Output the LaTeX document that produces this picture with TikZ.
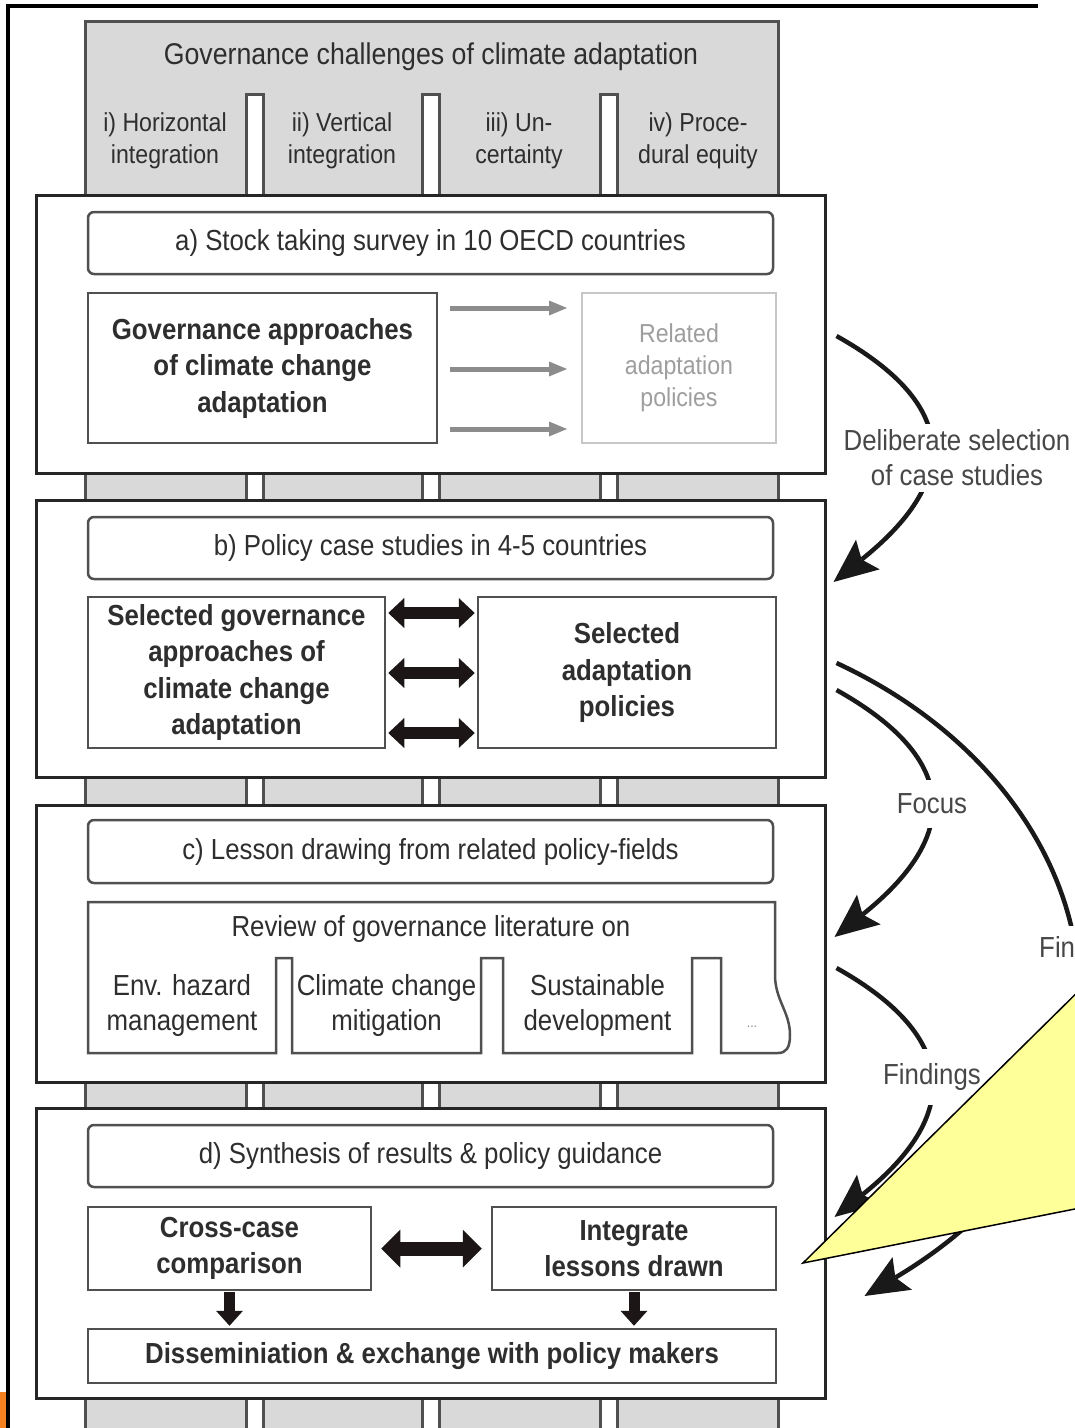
\documentclass[tikz,border=0pt]{standalone}
\usepackage{fontspec}
\setmainfont[FakeStretch=0.89]{Liberation Sans}
\usetikzlibrary{arrows.meta,calc}
\definecolor{txt}{HTML}{2E2E2E}
\definecolor{edge}{HTML}{505050}
\definecolor{hdrfill}{HTML}{D9D9D9}
\definecolor{lbl}{HTML}{474747}
\definecolor{callout}{HTML}{FFFF99}
\definecolor{orng}{HTML}{F58220}
\definecolor{garr}{HTML}{8C8C8C}
\definecolor{barr}{HTML}{1C1616}
\newcommand\fmain{\fontsize{29}{35}\selectfont}
\newcommand\fbold{\fontsize{29}{36.5}\selectfont\bfseries}
\newcommand\fsmall{\fontsize{26}{32}\selectfont}
\tikzset{
  pillar/.style={draw=edge, line width=2.5pt, fill=white, minimum width=17pt, inner sep=0pt, anchor=north west},
  stage/.style={draw=black!85, line width=3pt, fill=white, minimum width=789pt, inner sep=0pt},
  ttl/.style={draw=edge, line width=2.5pt, rounded corners=6pt, fill=white, minimum width=685pt, minimum height=62pt, font=\fmain, text=txt, inner sep=0pt},
  inb/.style={draw=edge, line width=2.5pt, fill=white, font=\fbold, text=txt, align=center, inner sep=0pt},
  plain/.style={font=\fmain, text=txt, align=center, inner sep=0pt},
  small/.style={font=\fsmall, text=txt, align=center, inner sep=0pt},
  sidelbl/.style={font=\fmain, text=lbl, align=center, fill=white, inner xsep=3pt},
  garrow/.style={draw=garr, line width=5pt, -{Triangle[length=18pt,width=15pt,line width=0pt]}},
  dblarrow/.style={draw=barr, line width=12pt, {Triangle[length=16pt,width=30pt,line width=0pt]}-{Triangle[length=16pt,width=30pt,line width=0pt]}},
  downarrow/.style={draw=barr, line width=11pt, -{Triangle[length=15pt,width=27pt,line width=0pt]}},
  carrow/.style={draw=black!90, line width=4.5pt, -{Stealth[length=44pt,width=38pt,inset=8pt,line width=0pt]}},
}
\begin{document}
\begin{tikzpicture}[x=1pt,y=-1pt]
\useasboundingbox (0,0) rectangle (1075,1428);
\clip (0,0) rectangle (1075,1428);
% slide frame
\fill[orng] (0,1392) rectangle (6,1428);
\draw[black, line width=3.5pt] (8,1430) -- (8,6) -- (1038,6);

% header column background
\node[draw=edge, line width=2.5pt, fill=hdrfill, minimum width=693pt, minimum height=1430pt, inner sep=0pt, anchor=north west] (hdr) at (84,20) {};
\node[pillar, minimum height=1400pt] (p1) at (245,93) {};
\node[pillar, minimum height=1400pt] (p2) at (421,93) {};
\node[pillar, minimum height=1400pt] (p3) at (599,93) {};
\node[plain, font=\fontsize{30}{35}\selectfont] (ht) at (431,57) {Governance challenges of climate adaptation};
\node[small] (h1) at (165,141) {i) Horizontal\\integration};
\node[small] (h2) at (342,141) {ii) Vertical\\integration};
\node[small] (h3) at (519,141) {iii) Un-\\certainty};
\node[small] (h4) at (698,141) {iv) Proce-\\dural equity};

% stages
\node[stage, minimum height=278pt] (A) at (430.5,334) {};
\node[stage, minimum height=277pt] (B) at (430.5,638.5) {};
\node[stage, minimum height=277pt] (C) at (430.5,943.5) {};
\node[stage, minimum height=290pt] (D) at (430.5,1253) {};

% stage a
\node[ttl] (ta) at (430.5,243) {a) Stock taking survey in 10 OECD countries};
\node[inb, minimum width=349pt, minimum height=150pt] (ga) at (262.5,368) {Governance approaches\\of climate change\\adaptation};
\node[draw=black!22, line width=2pt, fill=white, font=\fsmall, text=black!38, align=center, inner sep=0pt, minimum width=194pt, minimum height=150pt] (ra) at (679,368) {Related\\adaptation\\policies};
\coordinate (ya1) at (0,308);
\coordinate (ya2) at (0,369);
\coordinate (ya3) at (0,429);
\draw[garrow, shorten <=12pt, shorten >=14pt] (ga.east |- ya1) -- (ra.west |- ya1);
\draw[garrow, shorten <=12pt, shorten >=14pt] (ga.east |- ya2) -- (ra.west |- ya2);
\draw[garrow, shorten <=12pt, shorten >=14pt] (ga.east |- ya3) -- (ra.west |- ya3);

% stage b
\node[ttl] (tb) at (430.5,548) {b) Policy case studies in 4-5 countries};
\node[inb, minimum width=297pt, minimum height=151pt] (sg) at (236.5,672.5) {Selected governance\\approaches of\\climate change\\adaptation};
\node[inb, minimum width=298pt, minimum height=151pt] (sp) at (627,672.5) {Selected\\adaptation\\policies};
\coordinate (yb1) at (0,613);
\coordinate (yb2) at (0,673);
\coordinate (yb3) at (0,733);
\draw[dblarrow, shorten <=2pt, shorten >=2pt] (sg.east |- yb1) -- (sp.west |- yb1);
\draw[dblarrow, shorten <=2pt, shorten >=2pt] (sg.east |- yb2) -- (sp.west |- yb2);
\draw[dblarrow, shorten <=2pt, shorten >=2pt] (sg.east |- yb3) -- (sp.west |- yb3);

% stage c
\node[ttl, minimum height=63pt] (tc) at (430.5,851.5) {c) Lesson drawing from related policy-fields};
\draw[draw=edge, line width=2.5pt, fill=white] (88,902) -- (775,902) -- (775,975)
  .. controls (775,1000) and (790,1012) .. (790,1035)
  .. controls (790,1048) and (786,1053) .. (778,1053)
  -- (721,1053) -- (721,958) -- (692,958) -- (692,1053)
  -- (503,1053) -- (503,958) -- (481,958) -- (481,1053)
  -- (292,1053) -- (292,958) -- (276,958) -- (276,1053)
  -- (88,1053) -- cycle;
\node[plain] (rv) at (431,929) {Review of governance literature on};
\node[plain] (eh) at (182,1005) {Env. hazard\\management};
\node[plain] (cm) at (386.5,1005) {Climate change\\mitigation};
\node[plain] (sd) at (597.5,1005) {Sustainable\\development};
\node[font=\fontsize{14}{16}\selectfont, text=black!45, inner sep=0pt] (dots) at (752,1027) {...};

% stage d
\node[ttl] (td) at (430.5,1156) {d) Synthesis of results \& policy guidance};
\node[inb, minimum width=283pt, minimum height=83pt] (cc) at (229.5,1248.5) {Cross-case\\comparison};
\node[inb, minimum width=284pt, minimum height=83pt] (il) at (634,1248.5) {Integrate\\lessons drawn};
\node[inb, minimum width=688pt, minimum height=54pt] (dis) at (432,1356) {Disseminiation \& exchange with policy makers};
\draw[draw=barr, line width=14pt, {Triangle[length=19pt,width=38pt,line width=0pt]}-{Triangle[length=19pt,width=38pt,line width=0pt]}, shorten <=9pt, shorten >=9pt] (cc.east) -- (il.west);
\draw[downarrow, shorten <=1pt, shorten >=2pt] (cc.south) -- (cc.south |- dis.north);
\draw[downarrow, shorten <=1pt, shorten >=2pt] (il.south) -- (il.south |- dis.north);

% curved connectors on the right
\coordinate (s1) at (0,336);  \coordinate (e1) at (0,582);
\coordinate (s2) at (0,690);  \coordinate (e2) at (0,937);
\coordinate (s3) at (0,968);  \coordinate (e3) at (0,1217);
\coordinate (s4) at (0,663);  \coordinate (e4) at (0,1296);
\draw[carrow] ($(A.east |- s1)+(10,0)$) .. controls +(125,70) and +(125,-100) .. ($(B.east |- e1)+(7,0)$);
\node[sidelbl, inner ysep=6pt] (l1) at (957,458) {Deliberate selection\\of case studies};
\draw[carrow] ($(B.east |- s2)+(10,0)$) .. controls +(125,70) and +(125,-100) .. ($(C.east |- e2)+(8,0)$);
\node[sidelbl, inner ysep=14pt] (l2) at (932,804) {Focus};
\draw[carrow] ($(C.east |- s3)+(10,0)$) .. controls +(125,70) and +(125,-100) .. ($(D.east |- e3)+(8,0)$);
\node[sidelbl, inner ysep=14pt] (l3) at (932,1077) {Findings};
\draw[carrow] ($(B.east |- s4)+(10,0)$) .. controls +(274,127) and +(318,-190) .. ($(D.east |- e4)+(38,0)$);
\node[sidelbl, inner ysep=10pt] (l4) at (1088,950) {Findings};

% callout
\draw[fill=callout, draw=black, line width=1.5pt, line join=miter] (803,1263) -- (1100,970) -- (1100,1204) -- cycle;
\end{tikzpicture}
\end{document}
